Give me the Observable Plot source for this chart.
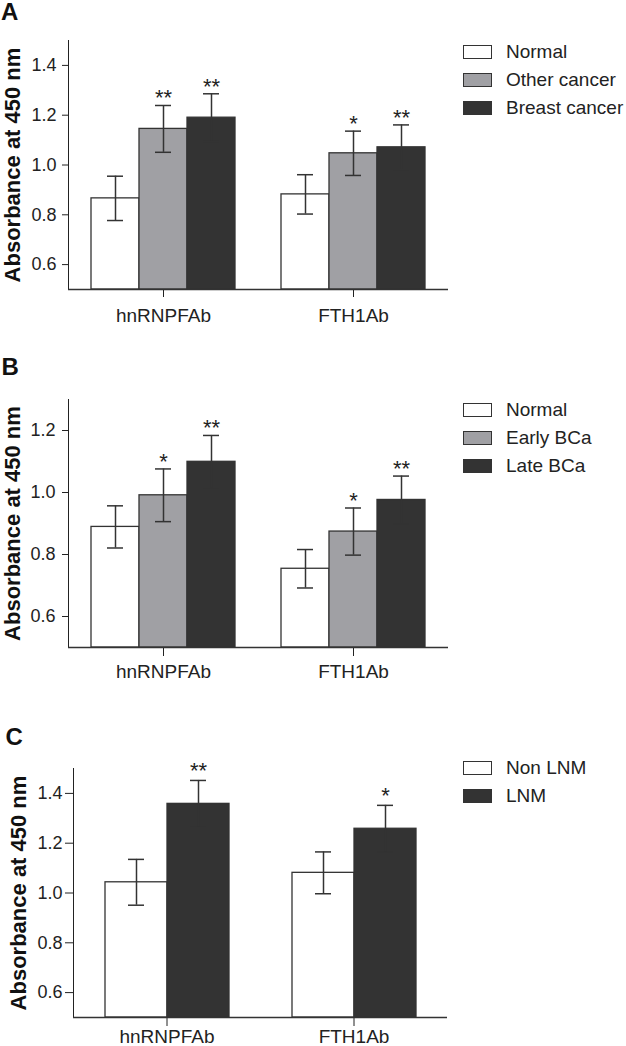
<!DOCTYPE html>
<html>
<head>
<meta charset="utf-8">
<script src="https://cdn.jsdelivr.net/npm/d3@7"></script>
<script src="https://cdn.jsdelivr.net/npm/@observablehq/plot@0.6"></script>
<style>
  html, body { margin: 0; padding: 0; background: #fff; }
  body { width: 626px; font-family: "Liberation Sans", Arial, sans-serif; }
  .panel { position: relative; width: 626px; }
  .panel svg { display: block; }
  .plabel { position: absolute; font-size: 24px; font-weight: bold; line-height: 24px; color: #111; }
  .legend { position: absolute; left: 463px; font-size: 19px; color: #222; }
  .legend .row { display: flex; align-items: center; height: 28px; }
  .legend .sw { width: 29px; height: 14px; box-sizing: border-box; border: 1.3px solid #333; margin-right: 14px; }
  g[aria-label="fx-axis tick label"] { font-size: 19px; }
</style>
</head>
<body>
<div id="root"></div>
<script>
// ---------- data ----------
const groups = ["hnRNPFAb", "FTH1Ab"];
const yTitle = "Absorbance at 450 nm";

// Panel A
const seriesA = ["Normal", "Other cancer", "Breast cancer"];
const meanA_hn = [0.866, 1.145, 1.190];
const errA_hn = [0.089, 0.094, 0.096];
const starA_hn = ["", "**", "**"];
const meanA_fth = [0.882, 1.047, 1.071];
const errA_fth = [0.079, 0.089, 0.090];
const starA_fth = ["", "*", "**"];
const ticksA = [0.6, 0.8, 1.0, 1.2, 1.4];

// Panel B
const seriesB = ["Normal", "Early BCa", "Late BCa"];
const meanB_hn = [0.889, 0.991, 1.099];
const errB_hn = [0.068, 0.085, 0.085];
const starB_hn = ["", "*", "**"];
const meanB_fth = [0.754, 0.874, 0.976];
const errB_fth = [0.062, 0.076, 0.077];
const starB_fth = ["", "*", "**"];
const ticksB = [0.6, 0.8, 1.0, 1.2];

// Panel C
const seriesC = ["Non LNM", "LNM"];
const meanC_hn = [1.043, 1.358];
const errC_hn = [0.092, 0.094];
const starC_hn = ["", "**"];
const meanC_fth = [1.081, 1.258];
const errC_fth = [0.084, 0.094];
const starC_fth = ["", "*"];
const ticksC = [0.6, 0.8, 1.0, 1.2, 1.4];

const colors3 = ["#ffffff", "#a0a0a4", "#333333"];
const colors2 = ["#ffffff", "#333333"];

function rowsFor(series, means, errs, stars) {
  const rows = [];
  groups.forEach((g, gi) => {
    series.forEach((s, si) => {
      rows.push({group: g, series: s, mean: means[gi][si], err: errs[gi][si], star: stars[gi][si]});
    });
  });
  return rows;
}

const panels = [
  {
    letter: "A", series: seriesA, colors: colors3,
    rows: rowsFor(seriesA, [meanA_hn, meanA_fth], [errA_hn, errA_fth], [starA_hn, starA_fth]),
    domain: [0.5, 1.5], ticks: ticksA,
    height: 340, mt: 40, mb: 51, ml: 68, mr: 178,
    xPadOuter: 0.452, capInset: 16,
    yTick: 6, yPad: 6, fxTick: 8, fxPad: 11, titleDx: -56, starDy: 0,
    labelTop: 0, labelLeft: 1, legendTop: 38
  },
  {
    letter: "B", series: seriesB, colors: colors3,
    rows: rowsFor(seriesB, [meanB_hn, meanB_fth], [errB_hn, errB_fth], [starB_hn, starB_fth]),
    domain: [0.5, 1.3], ticks: ticksB,
    height: 350, mt: 59, mb: 43, ml: 68, mr: 178,
    xPadOuter: 0.452, capInset: 16,
    yTick: 6, yPad: 7, fxTick: 9, fxPad: 8, titleDx: -56, starDy: 0,
    labelTop: 15, labelLeft: 1.5, legendTop: 56
  },
  {
    letter: "C", series: seriesC, colors: colors2,
    rows: rowsFor(seriesC, [meanC_hn, meanC_fth], [errC_hn, errC_fth], [starC_hn, starC_fth]),
    domain: [0.5, 1.5], ticks: ticksC,
    height: 356, mt: 78, mb: 29, ml: 73, mr: 179,
    xPadOuter: 0.489, capInset: 23,
    yTick: 8, yPad: 3, fxTick: 9, fxPad: 3, titleDx: -55, starDy: -2,
    labelTop: 35, labelLeft: 5.5, legendTop: 64
  }
];

const root = document.getElementById("root");
const ink = "#333333";

for (const p of panels) {
  const div = document.createElement("div");
  div.className = "panel";
  div.style.height = p.height + "px";
  const yMid = (p.domain[0] + p.domain[1]) / 2;

  const chart = Plot.plot({
    width: 626,
    height: p.height,
    marginTop: p.mt, marginBottom: p.mb, marginLeft: p.ml, marginRight: p.mr,
    style: {fontFamily: "'Liberation Sans', Arial, sans-serif", fontSize: "18px", color: "#222", background: "#fff", overflow: "visible"},
    fx: {domain: groups, padding: 0, axis: "bottom", tickSize: p.fxTick, tickPadding: p.fxPad, label: null},
    x: {domain: p.series, paddingInner: 0, paddingOuter: p.xPadOuter, axis: null},
    y: {domain: p.domain, ticks: p.ticks, tickFormat: ".1f", tickSize: p.yTick, tickPadding: p.yPad, label: null, line: true},
    color: {domain: p.series, range: p.colors},
    marks: [
      Plot.barY(p.rows, {fx: "group", x: "series", y1: p.domain[0], y2: "mean", fill: "series", stroke: ink, strokeWidth: 1.3}),
      Plot.ruleY([p.domain[0]], {stroke: ink, strokeWidth: 1.5}),
      Plot.ruleX(p.rows, {fx: "group", x: "series", y1: d => d.mean - d.err, y2: d => d.mean + d.err, stroke: ink, strokeWidth: 1.5}),
      Plot.tickY(p.rows, {fx: "group", x: "series", y: d => d.mean + d.err, insetLeft: p.capInset, insetRight: p.capInset, stroke: ink, strokeWidth: 1.5}),
      Plot.tickY(p.rows, {fx: "group", x: "series", y: d => d.mean - d.err, insetLeft: p.capInset, insetRight: p.capInset, stroke: ink, strokeWidth: 1.5}),
      Plot.text(p.rows.filter(d => d.star), {fx: "group", x: "series", y: d => d.mean + d.err, text: "star", lineAnchor: "bottom", dy: p.starDy, fontSize: 22, fill: "#222"}),
      Plot.text([groups[0]], {fx: d => d, y: () => yMid, frameAnchor: "left", textAnchor: "middle", lineAnchor: "middle", text: () => yTitle, rotate: -90, dx: p.titleDx, fontSize: 22, fontWeight: "bold", fill: "#111"})
    ]
  });
  div.appendChild(chart);

  const lab = document.createElement("div");
  lab.className = "plabel";
  lab.style.top = p.labelTop + "px";
  lab.style.left = p.labelLeft + "px";
  lab.textContent = p.letter;
  div.appendChild(lab);

  const leg = document.createElement("div");
  leg.className = "legend";
  leg.style.top = p.legendTop + "px";
  p.series.forEach((s, i) => {
    const row = document.createElement("div");
    row.className = "row";
    const sw = document.createElement("span");
    sw.className = "sw";
    sw.style.background = p.colors[i];
    const t = document.createElement("span");
    t.textContent = s;
    row.appendChild(sw);
    row.appendChild(t);
    leg.appendChild(row);
  });
  div.appendChild(leg);

  root.appendChild(div);
}
</script>
</body>
</html>
